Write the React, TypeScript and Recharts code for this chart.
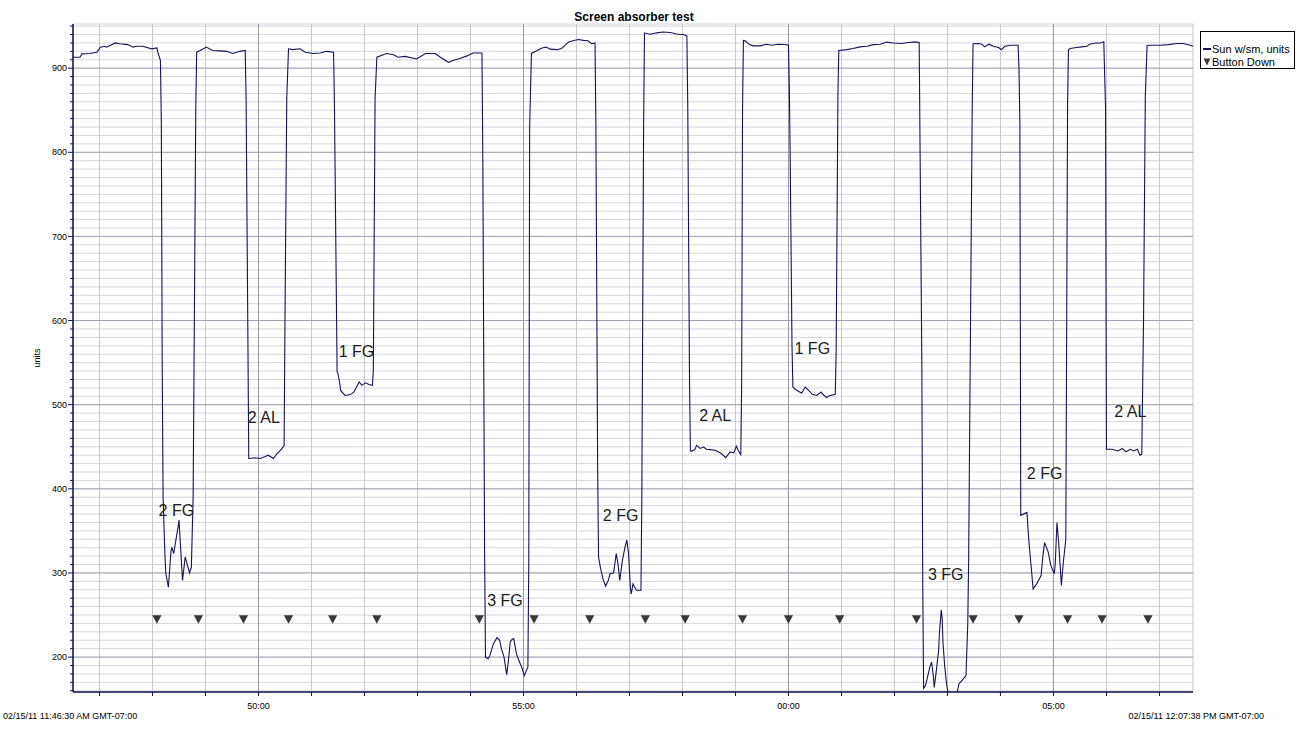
import React from 'react';
import {
  ComposedChart,
  Line,
  Scatter,
  XAxis,
  YAxis,
  CartesianGrid,
  ReferenceLine,
  Legend,
} from 'recharts';

// ---------- texts ----------
const chartTitle = 'Screen absorber test';
const yAxisTitle = 'units';
const startStamp = '02/15/11 11:46:30 AM GMT-07:00';
const endStamp = '02/15/11 12:07:38 PM GMT-07:00';
const seriesName = 'Sun w/sm, units';
const buttonName = 'Button Down';
const startClockSeconds = 46 * 60 + 30; // 11:46:30, seconds within the hour

// ---------- sun sensor series: elapsed seconds since 11:46:30 and values ----------
const sunSeconds = [
  0, 8, 10, 19, 27, 31, 36, 38, 48, 53, 62, 68, 72, 79, 89, 95, 96, 99, 100, 101,
  102, 104, 105, 108, 111, 112, 114, 119, 120, 124, 127, 132, 134, 136, 137, 139, 140, 144, 151, 158,
  166, 174, 181, 189, 195, 196, 199, 200, 206, 212, 217, 221, 227, 231, 235, 239, 240, 242, 244, 249,
  257, 263, 272, 280, 287, 295, 296, 299, 300, 302, 303, 308, 314, 318, 321, 324, 327, 331, 335, 339,
  340, 342, 344, 355, 363, 368, 376, 389, 399, 410, 416, 425, 431, 438, 446, 453, 463, 464, 466, 467,
  470, 472, 476, 480, 483, 485, 488, 491, 493, 495, 497, 499, 502, 504, 508, 511, 514, 515, 516, 517,
  519, 525, 531, 536, 540, 548, 553, 557, 561, 566, 572, 578, 583, 587, 591, 592, 594, 595, 597, 600,
  603, 606, 608, 612, 615, 617, 619, 622, 625, 627, 629, 631, 632, 634, 636, 638, 643, 644, 646, 647,
  653, 661, 668, 676, 682, 687, 691, 695, 696, 698, 699, 700, 704, 706, 710, 714, 717, 721, 727, 731,
  734, 739, 744, 748, 751, 753, 756, 757, 758, 759, 761, 766, 770, 778, 785, 791, 798, 806, 810, 811,
  812, 814, 815, 817, 821, 825, 829, 832, 837, 842, 847, 849, 853, 857, 863, 864, 866, 867, 876, 883,
  891, 899, 906, 914, 921, 929, 938, 946, 953, 958, 959, 961, 962, 963, 965, 967, 970, 972, 974, 975,
  977, 980, 981, 983, 984, 985, 987, 989, 991, 995, 1001, 1003, 1008, 1011, 1013, 1014, 1018, 1019, 1025, 1029,
  1032, 1037, 1042, 1048, 1051, 1055, 1061, 1070, 1071, 1072, 1073, 1080, 1082, 1087, 1091, 1096, 1098, 1100, 1104, 1107,
  1111, 1112, 1114, 1116, 1119, 1121, 1123, 1124, 1126, 1127, 1129, 1136, 1142, 1148, 1151, 1157, 1163, 1167, 1169, 1170,
  1176, 1183, 1188, 1192, 1197, 1201, 1205, 1208, 1210, 1212, 1214, 1216, 1221, 1231, 1240, 1250, 1257, 1265, 1268,
];
const sunValues = [
  913, 913, 917, 917.5, 919, 925, 926, 925, 930, 929, 928, 925, 926, 926, 923, 924, 919, 909, 835, 547,
  390, 323, 300, 283, 327, 330, 323, 355, 363, 291, 319, 300, 307, 390, 541, 850, 919, 921, 925, 921,
  920.5, 920, 917.5, 920, 921, 862, 436, 436, 437, 436, 438, 440, 436, 442, 446, 451, 600, 864, 923, 922,
  923, 919, 917.5, 918, 920, 919, 856, 539, 537, 525, 517, 511, 512, 515, 521, 527, 523, 526, 524, 523,
  540, 864, 913, 917.5, 916, 913, 914, 911, 917.5, 917.5, 913, 907, 909.5, 911.5, 914.6, 918, 918, 790, 321, 200,
  198, 202, 216, 223, 220, 210, 200, 179, 196, 218, 221, 222, 204, 198, 188, 178, 186, 188, 311, 830,
  917.5, 920.6, 924, 925, 922.6, 922, 923.4, 927, 931, 932.5, 934, 933, 932.5, 929, 930, 830, 422, 319, 307, 293,
  284.5, 291, 299, 300, 323, 311, 291, 315, 331, 339, 323, 283, 275, 287, 283, 279.4, 279.4, 390, 830, 942,
  940.4, 942, 943, 942.4, 941, 940, 940, 938.4, 854, 527, 445, 444.6, 446.6, 451.7, 448, 449.7, 447, 446.6, 445.8, 443.8,
  442, 437, 443.8, 442.7, 450.6, 445.8, 440.7, 521, 850, 933, 932.5, 928, 926.5, 926.5, 928.5, 927.3, 928.5, 928.2, 927.3, 876,
  790, 571, 521, 519, 516, 514, 521, 518, 512.4, 511, 515, 512.4, 508.5, 511, 512.4, 563, 868, 921, 922, 923.4,
  925.3, 926, 928, 928.5, 931, 930, 929.4, 930.5, 931.3, 930.5, 804, 549, 291, 163, 166, 174, 188, 194, 178, 164,
  180, 208, 230, 256, 246, 216, 188, 168, 156, 150, 158, 168, 174, 178, 240, 315, 848, 929, 929.4, 928.5,
  925.3, 928.5, 926, 924.6, 922, 926, 927.3, 927.3, 900, 834, 368.5, 372, 340, 281, 287, 297, 320, 336, 325, 309,
  299, 310, 360, 335, 285, 311, 330, 340, 856, 922, 923.4, 924.6, 925.3, 926, 928.5, 930, 930, 931.3, 852, 447,
  447, 445, 448, 444, 447, 445, 447, 440, 441, 600, 866, 927, 927.3, 927.3, 928, 929.4, 929.4, 927.3, 926,
];

// ---------- "Button Down" events ----------
const buttonSeconds = [
  95, 142, 193, 244, 294, 344, 460, 522, 585, 648, 693, 758, 810, 868, 955, 1019, 1071, 1126, 1165, 1217,
];
const buttonLevel = 245;

// ---------- annotations ----------
const noteSeconds = [117, 216, 321, 489, 620, 727, 837, 988, 1100, 1197];
const noteValues = [374.5, 485, 563.5, 267.5, 368.5, 487.4, 567, 298.4, 418.5, 492.2];
const noteTexts = ['2 FG', '2 AL', '1 FG', '3 FG', '2 FG', '2 AL', '1 FG', '3 FG', '2 FG', '2 AL'];

// ---------- ticks ----------
const xTicks = [30, 90, 150, 210, 270, 330, 390, 450, 510, 570, 630, 690, 750, 810, 870, 930, 990, 1050, 1110, 1170, 1230];
const xMajorTicks = [210, 510, 810, 1110];
const yTicks = [
  160, 170, 180, 190, 200, 210, 220, 230, 240, 250, 260, 270, 280, 290, 300, 310, 320, 330, 340, 350,
  360, 370, 380, 390, 400, 410, 420, 430, 440, 450, 460, 470, 480, 490, 500, 510, 520, 530, 540, 550,
  560, 570, 580, 590, 600, 610, 620, 630, 640, 650, 660, 670, 680, 690, 700, 710, 720, 730, 740, 750,
  760, 770, 780, 790, 800, 810, 820, 830, 840, 850, 860, 870, 880, 890, 900, 910, 920, 930, 940, 950,
];
const yMajorTicks = [200, 300, 400, 500, 600, 700, 800, 900];

// ---------- build tables ----------
const sunData = sunSeconds.map((s, i) => ({ s, v: sunValues[i] }));
const buttonData = buttonSeconds.map((s) => ({ s, v: buttonLevel }));
const noteData = noteSeconds.map((s, i) => ({ s, v: noteValues[i], text: noteTexts[i] }));

const FONT = 'Arial, "Liberation Sans", sans-serif';
const AXIS = '#12124e';
const LINE = '#14145a';

const fmtX = (s: number) => {
  const m = Math.floor((startClockSeconds + s) / 60) % 60;
  return `${m < 10 ? '0' : ''}${m}:00`;
};

const XTick = (props: any) => {
  const { x, y, payload } = props;
  const major = xMajorTicks.includes(payload.value);
  return (
    <g>
      <line x1={x} x2={x} y1={y} y2={y + 4} stroke={AXIS} strokeWidth={1} />
      {major && (
        <text x={x} y={y + 14} dy="0.35em" textAnchor="middle" fontSize={9} fontFamily={FONT} fill="#000">
          {fmtX(payload.value)}
        </text>
      )}
    </g>
  );
};

const YTick = (props: any) => {
  const { x, y, payload } = props;
  const major = yMajorTicks.includes(payload.value);
  return (
    <g>
      <line x1={x - (major ? 5 : 3)} x2={x} y1={y} y2={y} stroke={AXIS} strokeWidth={1} />
      {major && (
        <text x={x - 6} y={y} dy="0.35em" textAnchor="end" fontSize={9} fontFamily={FONT} fill="#000">
          {payload.value}
        </text>
      )}
    </g>
  );
};

const DownTriangle = (props: any) => {
  const { cx, cy } = props;
  if (cx == null || cy == null) return null;
  return <polygon points={`${cx - 4.6},${cy - 4} ${cx + 4.6},${cy - 4} ${cx},${cy + 4.5}`} fill="#383838" />;
};

const NoteText = (props: any) => {
  const { cx, cy, payload } = props;
  if (cx == null || cy == null) return null;
  return (
    <text x={cx} y={cy} dy="0.35em" textAnchor="middle" fontSize={16} fontFamily={FONT} fill="#1c1c1c">
      {payload.text}
    </text>
  );
};

const LegendBox = (props: any) => {
  const items = (props.payload || [])
    .filter((p: any) => p.type !== 'none')
    .slice()
    .sort((a: any, b: any) => (a.type === 'line' ? -1 : 0) - (b.type === 'line' ? -1 : 0));
  return (
    <div
      style={{
        border: '1px solid #000',
        background: '#fff',
        width: 95,
        height: 38,
        boxSizing: 'border-box',
        paddingTop: 11,
        fontFamily: FONT,
      }}
    >
      {items.map((it: any) => (
        <div
          key={it.value}
          style={{ display: 'flex', alignItems: 'center', height: 12.4, fontSize: 11, color: '#000', whiteSpace: 'nowrap' }}
        >
          <svg width={10} height={10} style={{ marginLeft: 1, flex: 'none' }}>
            {it.type === 'line' ? (
              <line x1={1} y1={5} x2={9} y2={5} stroke={LINE} strokeWidth={2} />
            ) : (
              <polygon points="1.5,1.5 8.5,1.5 5,8.5" fill="#383838" />
            )}
          </svg>
          <span>{it.value}</span>
        </div>
      ))}
    </div>
  );
};

export default function App() {
  return (
    <div style={{ position: 'absolute', left: 0, top: 0, width: 1307, height: 729, background: '#fff', overflow: 'hidden' }}>
      <div
        style={{
          position: 'absolute',
          left: 334,
          top: 10,
          width: 600,
          textAlign: 'center',
          fontFamily: FONT,
          fontWeight: 'bold',
          fontSize: 12,
          lineHeight: '14px',
          color: '#000',
        }}
      >
        {chartTitle}
      </div>
      <ComposedChart width={1307} height={729} margin={{ top: 24, right: 114, bottom: 0, left: 0 }}>
        <CartesianGrid horizontal={true} vertical={false} stroke="#d6d6de" strokeWidth={1} />
        <CartesianGrid horizontal={false} vertical={true} stroke="#c8c8d0" strokeWidth={1} />
        {yMajorTicks.map((v) => (
          <ReferenceLine key={`ym${v}`} y={v} stroke="#a4a4b0" strokeWidth={1} />
        ))}
        {xMajorTicks.map((s) => (
          <ReferenceLine key={`xm${s}`} x={s} stroke="#9a9aa6" strokeWidth={1} />
        ))}
        <XAxis
          type="number"
          dataKey="s"
          domain={[0, 1268]}
          allowDataOverflow
          ticks={xTicks}
          interval={0}
          height={37}
          tickSize={0}
          tickMargin={0}
          tickLine={false}
          axisLine={{ stroke: AXIS, strokeWidth: 1.5 }}
          tick={XTick}
        />
        <YAxis
          type="number"
          dataKey="v"
          domain={[158.5, 952.5]}
          allowDataOverflow
          ticks={yTicks}
          interval={0}
          width={73}
          tickSize={0}
          tickMargin={0}
          tickLine={false}
          axisLine={{ stroke: AXIS, strokeWidth: 1.5 }}
          tick={YTick}
          label={{ value: yAxisTitle, angle: -90, position: 'center', fontSize: 9, fill: '#000', fontFamily: FONT }}
        />
        <Line
          data={sunData}
          dataKey="v"
          name={seriesName}
          stroke={LINE}
          strokeWidth={1.1}
          dot={false}
          activeDot={false}
          legendType="line"
          isAnimationActive={false}
        />
        <Scatter
          data={buttonData}
          dataKey="v"
          name={buttonName}
          fill="#383838"
          shape={DownTriangle}
          legendType="triangle"
          isAnimationActive={false}
        />
        <Scatter
          data={noteData}
          dataKey="v"
          name="notes"
          fill="#1c1c1c"
          shape={NoteText}
          legendType="none"
          isAnimationActive={false}
        />
        <Legend
          layout="vertical"
          align="center"
          verticalAlign="middle"
          wrapperStyle={{ left: 1200, top: 31, width: 95 }}
          content={LegendBox}
        />
      </ComposedChart>
      <div
        style={{
          position: 'absolute',
          left: 3,
          top: 711,
          fontFamily: FONT,
          fontSize: 9,
          lineHeight: '11px',
          color: '#000',
          whiteSpace: 'nowrap',
        }}
      >
        {startStamp}
      </div>
      <div
        style={{
          position: 'absolute',
          right: 1307 - 1264,
          top: 711,
          fontFamily: FONT,
          fontSize: 9,
          lineHeight: '11px',
          color: '#000',
          whiteSpace: 'nowrap',
        }}
      >
        {endStamp}
      </div>
    </div>
  );
}
